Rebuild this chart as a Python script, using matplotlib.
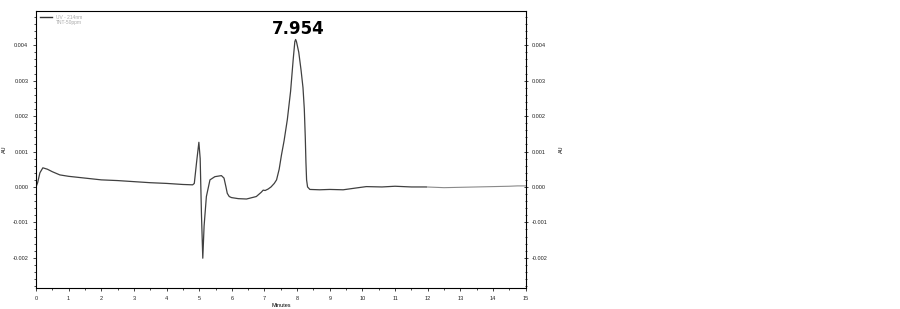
import numpy as np
import matplotlib
matplotlib.use("Agg")
import matplotlib.pyplot as plt
from matplotlib.ticker import MultipleLocator, FormatStrFormatter
from matplotlib.lines import Line2D

plt.rcParams['font.family'] = ['Liberation Sans', 'DejaVu Sans']

# chromatogram (minutes, AU)
minutes = [0, 0.05, 0.12, 0.21, 0.35, 0.5, 0.73, 1.0, 1.5, 2.0, 2.5, 3.0, 3.5, 4.0,
           4.5, 4.8, 4.85, 4.92, 4.99, 5.03, 5.07, 5.11, 5.15, 5.22, 5.33, 5.48,
           5.68, 5.76, 5.82, 5.86, 5.92, 5.99, 6.2, 6.45, 6.75, 6.9, 6.96, 7.02,
           7.11, 7.2, 7.3, 7.37, 7.45, 7.52, 7.6, 7.7, 7.8, 7.88, 7.93, 7.954,
           7.98, 8.05, 8.12, 8.18, 8.22, 8.25, 8.27, 8.29, 8.32, 8.39, 8.69, 9.0,
           9.41, 9.8, 10.12, 10.6, 11.0, 11.5, 11.96]
au = [0.0, 0.00012, 0.0004, 0.00054, 0.0005, 0.00043, 0.00034, 0.0003, 0.00025,
      0.0002, 0.00018, 0.00015, 0.00012, 0.0001, 0.00007, 0.00006, 0.0001,
      0.0007, 0.00126, 0.0008, -0.0008, -0.00201, -0.0011, -0.00027, 0.0002,
      0.00029, 0.00032, 0.00025, 0.0, -0.00018, -0.00027, -0.0003, -0.00033,
      -0.00034, -0.00027, -0.00015, -0.00009, -0.0001, -0.00006, 0.0, 0.0001,
      0.0002, 0.0005, 0.0009, 0.0013, 0.0019, 0.0027, 0.0036, 0.0041, 0.00416,
      0.0041, 0.0038, 0.0033, 0.0028, 0.0022, 0.0014, 0.0007, 0.0002, 0.0,
      -0.00007, -0.00008, -0.00007, -0.00008, -0.00003, 0.00001, 0.0, 0.00002,
      0.0, 0.0]
# flat tail after the run
tail_minutes = [11.96, 12.5, 13.5, 14.5, 14.75, 15.0]
tail_au = [0.0, -0.00002, 0.0, 0.00002, 0.00003, 0.00003]

peak_label = "7.954"
peak_time = 7.954
peak_height = 0.00416

fig = plt.figure(figsize=(9, 3.09), dpi=100)
ax = fig.add_axes([0.04, 0.068, 0.544, 0.896])

ax.plot(minutes, au, color='#404040', lw=0.9)
ax.plot(tail_minutes, tail_au, color='#8a8a8a', lw=0.8)

ax.set_xlim(0, 15)
ax.set_ylim(-0.00285, 0.00496)
ax.xaxis.set_major_locator(MultipleLocator(1))
ax.xaxis.set_minor_locator(MultipleLocator(0.5))
ax.yaxis.set_major_locator(MultipleLocator(0.001))
ax.yaxis.set_minor_locator(MultipleLocator(0.0002))
ax.yaxis.set_major_formatter(FormatStrFormatter('%.3f'))
ax.tick_params(labelsize=4, length=2.5, width=0.6, colors='#222222', pad=3)
ax.tick_params(which='minor', length=1.5, width=0.5)
for s in ax.spines.values():
    s.set_linewidth(0.7)
    s.set_color('#555555')
ax.set_xlabel('Minutes', fontsize=4, labelpad=2)
ax.set_ylabel('AU', fontsize=4, labelpad=4)

ax2 = ax.twinx()
ax2.set_ylim(ax.get_ylim())
ax2.yaxis.set_major_locator(MultipleLocator(0.001))
ax2.yaxis.set_minor_locator(MultipleLocator(0.0002))
ax2.yaxis.set_major_formatter(FormatStrFormatter('%.3f'))
ax2.tick_params(labelsize=4, length=2.5, width=0.6, colors='#222222', pad=3, direction='inout')
ax2.tick_params(which='minor', length=1.5, width=0.5, direction='inout')
ax2.set_ylabel('AU', fontsize=4, labelpad=8)

handles = [Line2D([0], [0], color='#333333', lw=1.0),
           Line2D([0], [0], color='none')]
leg = ax.legend(handles, ['UV - 214nm', 'TNT-50ppm'], loc='upper left',
                fontsize=3.5, frameon=False, handlelength=2.5,
                borderaxespad=0.4, labelspacing=0.1)
for t in leg.get_texts():
    t.set_color('#aaaaaa')

ax.annotate(peak_label, (peak_time, peak_height), xytext=(2, 1),
            textcoords='offset points', ha='center', va='bottom',
            fontsize=12, fontweight='bold', family=['DejaVu Sans'])

fig.savefig('out.png', dpi=100)
